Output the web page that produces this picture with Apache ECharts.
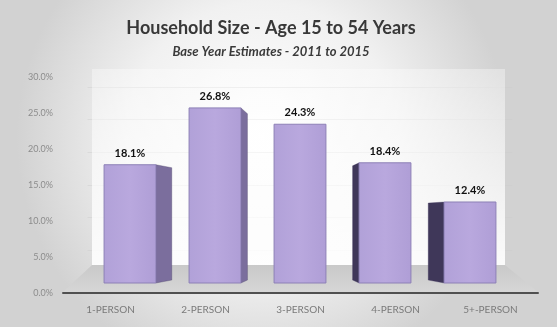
<!DOCTYPE html>
<html>
<head>
<meta charset="utf-8">
<script src="https://cdn.jsdelivr.net/npm/echarts@6/dist/echarts.min.js"></script>
<style>
  html, body { margin: 0; padding: 0; background: #ffffff; }
  #chart { width: 557px; height: 327px; }
</style>
</head>
<body>
<div id="chart"></div>
<script>
// Household size shares, base year estimates 2011-2015 (age 15 to 54)
const categories = ['1-PERSON', '2-PERSON', '3-PERSON', '4-PERSON', '5+-PERSON'];
const shares = [18.1, 26.8, 24.3, 18.4, 12.4];
const yMin = 0;
const yMax = 30;
const yStep = 5;

const titleText = 'Household Size - Age 15 to 54 Years';
const subtitleText = 'Base Year Estimates - 2011 to 2015';

const pct = v => v.toFixed(1) + '%';

// Floor and back wall of the 3-D box, sized from the front axis grid
function renderRoom(params, api) {
  const cs = params.coordSys;
  const frontY = cs.y + cs.height - 1;
  const backY = frontY - 27;
  const x0 = cs.x, x1 = cs.x + cs.width;
  const bx0 = x0 + 29, bx1 = x1 - 33;
  return {
    type: 'group',
    children: [
      {
        type: 'rect',
        shape: { x: bx0, y: cs.y - 8, width: bx1 - bx0, height: backY - cs.y + 8 },
        style: {
          fill: new echarts.graphic.LinearGradient(0, 0, 0, 1, [
            { offset: 0, color: 'rgba(255,255,255,0.35)' },
            { offset: 1, color: 'rgba(255,255,255,0.9)' }
          ])
        }
      },
      {
        type: 'polygon',
        shape: { points: [[bx0, backY], [bx1, backY], [x1, frontY], [x0, frontY]] },
        style: {
          fill: new echarts.graphic.LinearGradient(0, 0, 0, 1, [
            { offset: 0, color: '#c9c9c9' },
            { offset: 1, color: '#d6d6d6' }
          ])
        }
      }
    ]
  };
}

// 3-D style column: front face plus a side face receding toward the centre
function renderBar(params, api) {
  const cs = params.coordSys;
  const idx = api.value(0);
  const val = api.value(1);
  const top = api.coord([idx, val]);
  const base = api.coord([idx, 0]);
  const w = api.size([1, 0])[0] * 0.61;
  const xl = top[0] - w / 2;
  const xr = top[0] + w / 2;
  const vx = cs.x + cs.width / 2;
  const vy = 224;
  const kx = 0.11, ky = 0.05;
  const children = [];

  const sideFace = (xe, color) => {
    const dx = (vx - xe) * kx;
    return {
      type: 'polygon',
      shape: {
        points: [
          [xe, top[1]],
          [xe + dx, top[1] + (vy - top[1]) * ky],
          [xe + dx, base[1] + (vy - base[1]) * ky],
          [xe, base[1]]
        ]
      },
      style: { fill: color, stroke: 'rgba(60,50,90,0.5)', lineWidth: 0.6 }
    };
  };

  if (xr < vx - 2) {
    children.push(sideFace(xr, '#7b6e9d'));
  } else if (xl > vx + 2) {
    children.push(sideFace(xl, '#3f3759'));
  }

  children.push({
    type: 'rect',
    shape: { x: xl, y: top[1], width: w, height: base[1] - top[1] },
    style: {
      fill: new echarts.graphic.LinearGradient(0, 0, 1, 0, [
        { offset: 0, color: '#b1a1d8' },
        { offset: 0.5, color: '#b9a8de' },
        { offset: 1, color: '#af9ed6' }
      ]),
      stroke: '#8d80b6',
      lineWidth: 1
    }
  });

  children.push({
    type: 'text',
    style: {
      text: pct(val),
      x: top[0],
      y: top[1] - 6,
      align: 'center',
      verticalAlign: 'bottom',
      fill: '#111111',
      font: 'bold 11px Lato, "Open Sans", sans-serif'
    }
  });

  return { type: 'group', children };
}

const chart = echarts.init(document.getElementById('chart'), null, { renderer: 'canvas' });

chart.setOption({
  animation: false,
  backgroundColor: new echarts.graphic.RadialGradient(0.47, 0.42, 0.75, [
    { offset: 0, color: '#ffffff' },
    { offset: 0.55, color: '#f1f1f1' },
    { offset: 1, color: '#d2d2d2' }
  ]),
  title: [
    {
      text: titleText,
      left: 266,
      top: 14,
      textAlign: 'center',
      textStyle: { fontFamily: 'Lato', fontWeight: 'bold', fontSize: 18, color: '#383838' }
    },
    {
      text: subtitleText,
      left: 266,
      top: 40,
      textAlign: 'center',
      textStyle: { fontFamily: 'Lato', fontWeight: 'bold', fontStyle: 'italic', fontSize: 13, color: '#3a3a3a' }
    }
  ],
  grid: [
    { left: 63, right: 19, top: 77, bottom: 34 },
    { left: 87.5, right: 44.5, top: 87, bottom: 44 }
  ],
  xAxis: [
    {
      type: 'category',
      gridIndex: 0,
      data: categories,
      axisLine: { lineStyle: { color: '#505050', width: 2 } },
      axisTick: { show: false },
      axisLabel: { color: '#7a7a7a', fontSize: 10, fontFamily: 'Lato', margin: 12 }
    },
    {
      type: 'category',
      gridIndex: 1,
      data: categories,
      show: false
    }
  ],
  yAxis: [
    {
      type: 'value',
      gridIndex: 0,
      min: yMin,
      max: yMax,
      interval: yStep,
      axisLine: { show: false },
      axisTick: { show: false },
      splitLine: { show: false },
      axisLabel: {
        color: '#8c8c8c',
        fontSize: 9,
        fontFamily: 'Lato',
        margin: 10,
        formatter: v => pct(v)
      }
    },
    {
      type: 'value',
      gridIndex: 1,
      min: yMin,
      max: yMax,
      interval: yStep,
      axisLine: { show: false },
      axisTick: { show: false },
      axisLabel: { show: false },
      splitLine: { show: true, lineStyle: { color: 'rgba(205,205,205,0.45)', width: 1 } }
    }
  ],
  series: [
    {
      type: 'custom',
      xAxisIndex: 0,
      yAxisIndex: 0,
      z: 0,
      silent: true,
      clip: false,
      renderItem: renderRoom,
      data: [[0, 0]]
    },
    {
      type: 'custom',
      xAxisIndex: 1,
      yAxisIndex: 1,
      z: 3,
      clip: false,
      renderItem: renderBar,
      data: shares.map((v, i) => [i, v])
    }
  ]
});
</script>
</body>
</html>
